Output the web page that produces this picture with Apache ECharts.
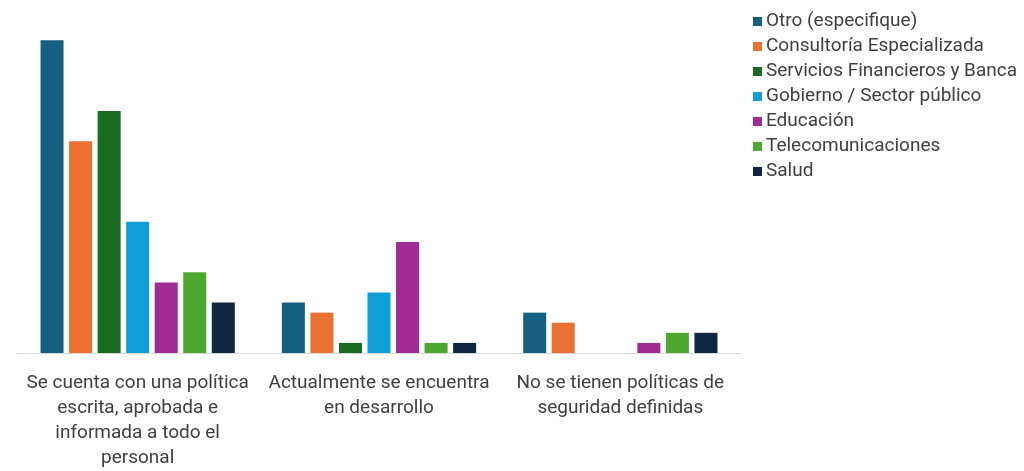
<!DOCTYPE html>
<html>
<head>
<meta charset="utf-8">
<script src="https://cdn.jsdelivr.net/npm/echarts@6/dist/echarts.min.js"></script>
<style>
  html, body { margin: 0; padding: 0; background: #fff; }
  #chart { width: 1024px; height: 471px; }
</style>
</head>
<body>
<div id="chart"></div>
<script>
// Categories (line breaks as shown under the axis)
const categories = [
  'Se cuenta con una política\nescrita, aprobada e\ninformada a todo el\npersonal',
  'Actualmente se encuentra\nen desarrollo',
  'No se tienen políticas de\nseguridad definidas'
];

// Counts per sector for each category
const otro = [31, 5, 4];
const consultoria = [21, 4, 3];
const financieros = [24, 1, 0];
const gobierno = [13, 6, 0];
const educacion = [7, 11, 1];
const telecom = [8, 1, 2];
const salud = [5, 1, 2];

const seriesNames = [
  'Otro (especifique)',
  'Consultoría Especializada',
  'Servicios Financieros y Banca',
  'Gobierno / Sector público',
  'Educación',
  'Telecomunicaciones',
  'Salud'
];
const seriesData = [otro, consultoria, financieros, gobierno, educacion, telecom, salud];
const colors = ['#156082', '#E97132', '#196B24', '#0F9ED5', '#A02B93', '#4EA72E', '#0E2841'];

const fontFamily = 'Roboto, "Noto Sans", sans-serif';

const chart = echarts.init(document.getElementById('chart'), null, { renderer: 'canvas' });
chart.setOption({
  animation: false,
  color: colors,
  textStyle: { fontFamily: fontFamily },
  legend: {
    orient: 'vertical',
    left: 748,
    top: 7,
    itemWidth: 9,
    itemHeight: 9,
    itemGap: 6,
    icon: 'rect',
    textStyle: { fontSize: 19, color: '#404040', fontFamily: fontFamily, padding: [0, 0, 0, -1] },
    data: seriesNames
  },
  grid: { left: 17, top: 10, width: 724, bottom: 118, containLabel: false },
  xAxis: {
    type: 'category',
    data: categories,
    axisLine: { lineStyle: { color: '#d9d9d9', width: 1 } },
    axisTick: { show: false },
    axisLabel: {
      fontSize: 19,
      color: '#404040',
      lineHeight: 25,
      margin: 18,
      interval: 0,
      align: 'center'
    }
  },
  yAxis: {
    type: 'value',
    min: 0,
    max: 34,
    show: false,
    splitLine: { show: false }
  },
  series: seriesData.map((d, i) => ({
    name: seriesNames[i],
    type: 'bar',
    data: d,
    barCategoryGap: '19.5%',
    barGap: '24%'
  }))
});
</script>
</body>
</html>
